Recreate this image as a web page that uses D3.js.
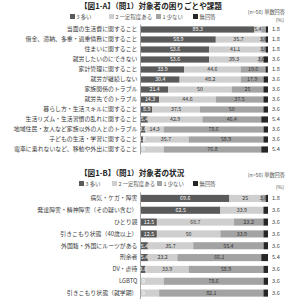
<!DOCTYPE html>
<html>
<head>
<meta charset="utf-8">
<script src="https://cdn.jsdelivr.net/npm/d3@7"></script>
<style>
  body { margin: 0; background: #fff; }
  svg { display: block; font-family: "Noto Sans CJK JP", "Noto Sans", sans-serif; }
</style>
</head>
<body>
<script>
// series names (legend)
const seriesNames = ["3 多い", "2 一定程度ある", "1 少ない", "無回答"];
const seriesColors = ["#5a5a5a", "#cfcfcf", "#a3a3a3", "#262626"];

// 図1-A
const catsA = [
  "当面の生活費に関すること",
  "借金、滞納、多重・過重債務に関すること",
  "住まいに関すること",
  "就労したいのにできない",
  "家計管理に関すること",
  "就労が継続しない",
  "家族関係のトラブル",
  "就労先でのトラブル",
  "暮らし方・生活スキルに関すること",
  "生活リズム・生活習慣の乱れに関すること",
  "地域住民・友人など家族以外の人とのトラブル",
  "子どもの生活・学習に関すること",
  "電車に乗れないなど、移動や外出に関すること"
];
const manyA    = [89.3, 58.9, 53.6, 53.6, 33.9, 30.4, 21.4, 14.3, 8.9, 5.4, 3.6, 1.8, 0];
const someA    = [5.4, 35.7, 41.1, 39.3, 44.6, 48.2, 50, 44.6, 37.5, 42.9, 14.3, 35.7, 17.9];
const fewA     = [3.6, 3.6, 3.6, 3.6, 19.6, 17.9, 25, 37.5, 50, 46.4, 78.6, 58.9, 76.8];
const noAnsA   = [1.8, 1.8, 1.8, 3.6, 1.8, 3.6, 3.6, 3.6, 3.6, 5.4, 3.6, 3.6, 5.4];

// 図1-B
const catsB = [
  "病気・ケガ・障害",
  "発達障害・精神障害（その疑い含む）",
  "ひとり親",
  "引きこもり状態（40歳以上）",
  "外国籍・外国にルーツがある",
  "刑余者",
  "DV・虐待",
  "LGBTQ",
  "引きこもり状態（就学期）"
];
const manyB  = [69.6, 62.5, 12.5, 12.5, 5.4, 5.4, 3.6, 0, 0];
const someB  = [25, 33.9, 60.7, 50, 35.7, 23.2, 33.9, 17.9, 14.3];
const fewB   = [3.6, 0, 23.2, 33.9, 55.4, 66.1, 58.9, 78.6, 82.1];
const noAnsB = [1.8, 3.6, 3.6, 3.6, 3.6, 5.4, 3.6, 3.6, 3.6];

const W = 289, H = 300;
const svg = d3.select("body").append("svg").attr("width", W).attr("height", H);

const x = d3.scaleLinear().domain([0, 100]).range([141, 268]);

function panel(cfg) {
  const g = svg.append("g");
  const rows = cfg.cats.map(function (c, i) {
    return { cat: c, vals: [cfg.many[i], cfg.some[i], cfg.few[i], cfg.noAns[i]] };
  });

  // title
  g.append("text").attr("x", 80).attr("y", cfg.titleY)
    .attr("font-size", 7.6).attr("font-weight", "bold").attr("fill", "#222")
    .text(cfg.title);

  // legend
  cfg.legendX.forEach(function (lx, k) {
    g.append("rect").attr("x", lx).attr("y", cfg.legendY - 4.5)
      .attr("width", 5).attr("height", 5).attr("fill", seriesColors[k]);
    g.append("text").attr("x", lx + 6.5).attr("y", cfg.legendY)
      .attr("font-size", 5.4).attr("fill", "#555").text(seriesNames[k]);
  });

  g.append("text").attr("x", 285).attr("y", cfg.nY).attr("text-anchor", "end")
    .attr("font-size", 5.2).attr("fill", "#555").text("(n=56) 単数回答");
  g.append("text").attr("x", 284).attr("y", cfg.pctY).attr("text-anchor", "end")
    .attr("font-size", 5.2).attr("fill", "#555").text("(%)");

  const y = d3.scaleBand().domain(cfg.cats).range(cfg.yRange).paddingInner(cfg.pad).paddingOuter(cfg.pad / 2);

  // axis line
  g.append("line").attr("x1", x(0) - 0.5).attr("x2", x(0) - 0.5)
    .attr("y1", cfg.yRange[0]).attr("y2", cfg.yRange[1])
    .attr("stroke", "#666").attr("stroke-width", 0.6);

  rows.forEach(function (r) {
    const stack = [];
    let acc = 0;
    r.vals.forEach(function (v, k) {
      stack.push({ k: k, v: v, x0: acc, x1: acc + v });
      acc += v;
    });
    const row = g.append("g");
    row.selectAll("rect").data(stack).enter().append("rect")
      .attr("x", function (d) { return x(d.x0); })
      .attr("y", y(r.cat))
      .attr("width", function (d) { return Math.max(0, x(Math.min(d.x1, 100)) - x(d.x0)); })
      .attr("height", y.bandwidth())
      .attr("fill", function (d) { return seriesColors[d.k]; });

    const cy = y(r.cat) + y.bandwidth() / 2 + 1.9;
    // segment labels (skip one that would sit on the previous label)
    let lastX = -100;
    stack.filter(function (d) { return d.k < 3; }).forEach(function (d) {
      let tx = x((d.x0 + d.x1) / 2);
      if (d.v === 0) tx = x(d.x0) + 2.5;
      if (tx - lastX < 9) return;
      lastX = tx;
      row.append("text").attr("x", tx).attr("y", cy).attr("text-anchor", "middle")
        .attr("font-size", 5.3)
        .attr("fill", d.k === 0 ? "#fff" : "#333")
        .text(String(d.v));
    });
    // no answer value at right
    row.append("text").attr("x", 272).attr("y", cy)
      .attr("font-size", 5.6).attr("fill", "#444").text(String(r.vals[3]));
    // category label
    row.append("text").attr("x", 137.5).attr("y", cy).attr("text-anchor", "end")
      .attr("font-size", 5.9).attr("fill", "#3a3a3a").text(r.cat);
  });
}

panel({
  title: "【図1-A】（問1）対象者の困りごとや課題",
  titleY: 9, legendY: 18.5, legendX: [70, 109, 156, 193], nY: 14, pctY: 22,
  cats: catsA, many: manyA, some: someA, few: fewA, noAns: noAnsA,
  yRange: [24.5, 154.5], pad: 0.38
});

panel({
  title: "【図1-B】（問1）対象者の状況",
  titleY: 176, legendY: 185.5, legendX: [79, 112, 157, 193], nY: 177, pctY: 189,
  cats: catsB, many: manyB, some: someB, few: fewB, noAns: noAnsB,
  yRange: [192.5, 299], pad: 0.4
});
</script>
</body>
</html>
